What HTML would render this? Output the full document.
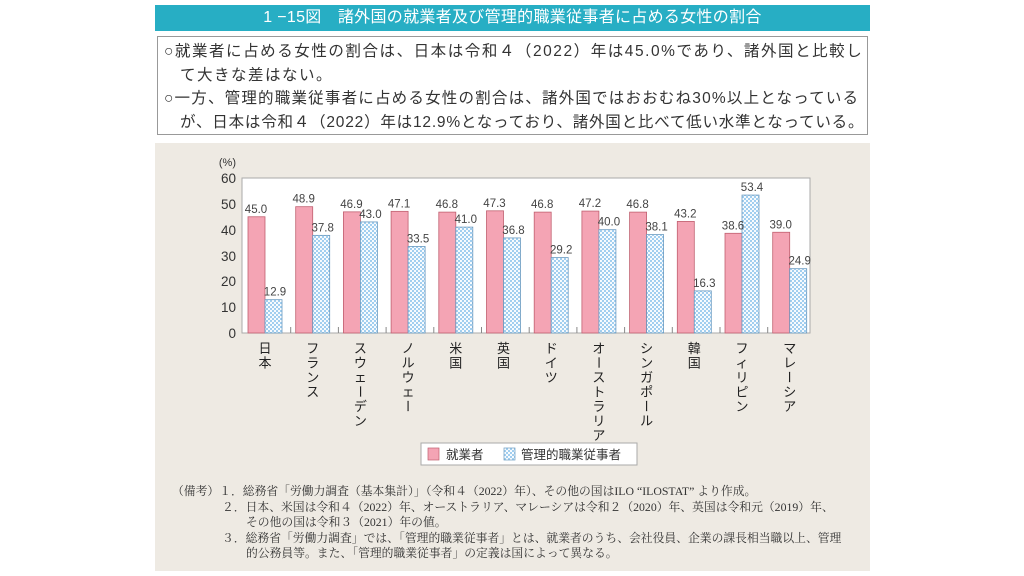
<!DOCTYPE html>
<html><head><meta charset="utf-8"><style>
body{margin:0;width:1024px;height:576px;background:#fff;overflow:hidden;font-family:"Liberation Sans","Noto Sans CJK JP",sans-serif;}
.title{position:absolute;left:155px;top:5px;width:715px;height:26px;background:#27aec4;color:#fff;font-size:16px;line-height:26px;text-align:center;letter-spacing:0.3px}
.box{position:absolute;left:157px;top:36px;width:711px;height:99px;border:1px solid #999;box-sizing:border-box;padding:3px 6px;font-size:15.5px;line-height:23.5px;color:#333;white-space:nowrap}
.box p{margin:0}
.bg{position:absolute;left:155px;top:143px;width:715px;height:428px;background:#eeeae3}
.note{position:absolute;left:172px;top:484px;font-size:11.8px;line-height:15.5px;color:#333;font-family:"Liberation Serif","Noto Serif CJK SC",serif;white-space:nowrap}
</style></head><body>
<div class="title">1 −15図　諸外国の就業者及び管理的職業従事者に占める女性の割合</div>
<div class="box"><p style="letter-spacing:1.55px">○就業者に占める女性の割合は、日本は令和４（2022）年は45.0%であり、諸外国と比較し</p><p style="padding-left:16px;letter-spacing:1.5px">て大きな差はない。</p><p style="letter-spacing:1.2px">○一方、管理的職業従事者に占める女性の割合は、諸外国ではおおむね30%以上となっている</p><p style="padding-left:16px;letter-spacing:0.8px">が、日本は令和４（2022）年は12.9%となっており、諸外国と比べて低い水準となっている。</p></div>
<div class="bg"></div>
<svg style="position:absolute;left:0;top:0" width="1024" height="576" font-family="Liberation Sans, Noto Sans CJK JP, sans-serif">
<defs><pattern id="pt" width="4" height="4" patternUnits="userSpaceOnUse"><rect width="4" height="4" fill="#9fcdef"/><circle cx="1" cy="1" r="1.1" fill="#fff"/><circle cx="3" cy="3" r="1.1" fill="#fff"/></pattern></defs>
<rect x="242" y="178" width="568" height="155" fill="#fff" stroke="#aaa"/>
<g font-size="13.5" fill="#333" text-anchor="end">
<text x="236" y="338">0</text><text x="236" y="312">10</text><text x="236" y="286">20</text><text x="236" y="261">30</text><text x="236" y="235">40</text><text x="236" y="209">50</text><text x="236" y="183">60</text>
<text x="236" y="166" font-size="11">(%)</text></g>
<g id="bars" font-size="11.5" fill="#444" text-anchor="middle"></g>
<g id="labs" font-size="13" fill="#222" text-anchor="middle"></g>
<rect x="421" y="443" width="216" height="22" fill="#fff" stroke="#aaa"/>
<rect x="428" y="448" width="11" height="12" fill="#f4a4b4" stroke="#c06070" stroke-width="0.7"/>
<text x="446" y="459" font-size="12.5" fill="#333">就業者</text>
<rect x="504" y="448" width="11" height="12" fill="url(#pt)" stroke="#6a9ac0" stroke-width="0.7"/>
<text x="521" y="459" font-size="12.5" fill="#333">管理的職業従事者</text>
</svg>
<div class="note">（備考）１．総務省「労働力調査（基本集計）」（令和４（2022）年）、その他の国はILO “ILOSTAT” より作成。<br>
<span style="padding-left:50px">２．日本、米国は令和４（2022）年、オーストラリア、マレーシアは令和２（2020）年、英国は令和元（2019）年、</span><br>
<span style="padding-left:74px">その他の国は令和３（2021）年の値。</span><br>
<span style="padding-left:50px">３．総務省「労働力調査」では、「管理的職業従事者」とは、就業者のうち、会社役員、企業の課長相当職以上、管理</span><br>
<span style="padding-left:74px">的公務員等。また、「管理的職業従事者」の定義は国によって異なる。</span></div>
<script>
var d=[["日本",45.0,12.9],["フランス",48.9,37.8],["スウェーデン",46.9,43.0],["ノルウェー",47.1,33.5],["米国",46.8,41.0],["英国",47.3,36.8],["ドイツ",46.8,29.2],["オーストラリア",47.2,40.0],["シンガポール",46.8,38.1],["韓国",43.2,16.3],["フィリピン",38.6,53.4],["マレーシア",39.0,24.9]];
var ns="http://www.w3.org/2000/svg",b=document.getElementById("bars"),l=document.getElementById("labs");
function el(t,a,p,tx){var e=document.createElementNS(ns,t);for(var k in a)e.setAttribute(k,a[k]);if(tx)e.textContent=tx;p.appendChild(e);return e;}
var k=2.583;
d.forEach(function(r,i){var x=248+47.7*i;
el("rect",{x:x,y:333-r[1]*k,width:17,height:r[1]*k,fill:"#f4a4b4",stroke:"#c06070","stroke-width":0.8},b);
el("rect",{x:x+17,y:333-r[2]*k,width:17,height:r[2]*k,fill:"url(#pt)",stroke:"#6a9ac0","stroke-width":0.8},b);
el("text",{x:x+8,y:333-r[1]*k-4},b,r[1].toFixed(1));
el("text",{x:x+27,y:333-r[2]*k-4},b,r[2].toFixed(1));
if(i>0)el("line",{x1:x-5,x2:x-5,y1:327,y2:333,stroke:"#888"},b);
var cx=x+17;r[0].split("").forEach(function(c,j){var t=el("text",{x:cx,y:353+j*14.5},l,c);if(c=="ー"){t.setAttribute("transform","rotate(90 "+cx+" "+(348+j*14.5)+")");}});
});
</script>
</body></html>
